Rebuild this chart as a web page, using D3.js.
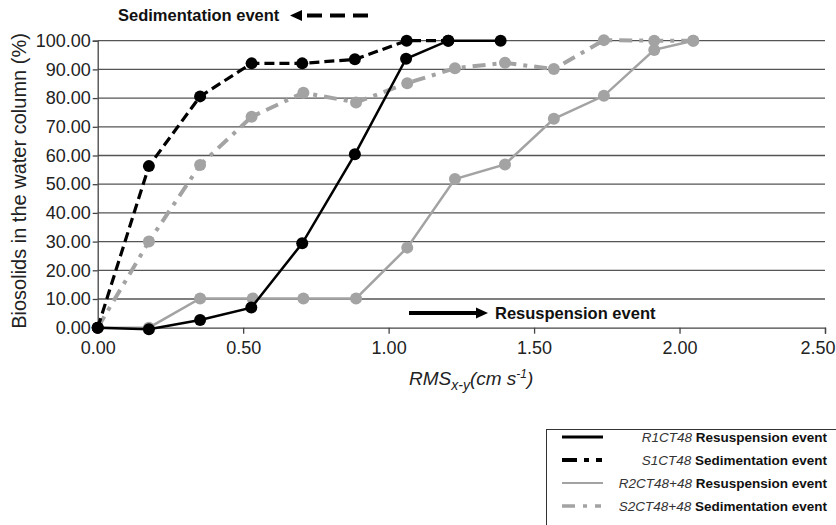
<!DOCTYPE html>
<html><head><meta charset="utf-8">
<script src="https://cdn.jsdelivr.net/npm/d3@7"></script>
<style>body{margin:0;background:#fff}svg{display:block;font-family:"Liberation Sans",Arial,sans-serif}</style>
</head><body><svg id="c" width="836" height="525"></svg>
<script>
const xTicks = [0, 0.5, 1.0, 1.5, 2.0, 2.5];
const yTicks = [0, 10, 20, 30, 40, 50, 60, 70, 80, 90, 100];

const xR1 = [0, 0.176, 0.352, 0.528, 0.703, 0.884, 1.06, 1.205, 1.385];
const yR1 = [0, -0.5, 2.7, 7.0, 29.4, 60.4, 93.7, 100, 100];
const xS1 = [0, 0.176, 0.352, 0.529, 0.703, 0.884, 1.062, 1.205];
const yS1 = [0, 56.3, 80.6, 92.1, 92.1, 93.5, 100, 100];
const xR2 = [0, 0.176, 0.352, 0.533, 0.707, 0.888, 1.064, 1.228, 1.400, 1.568, 1.740, 1.913, 2.047];
const yR2 = [0, 0, 10.2, 10.2, 10.2, 10.2, 27.9, 51.8, 56.9, 72.8, 80.8, 96.8, 100];
const xS2 = [0, 0.176, 0.352, 0.529, 0.707, 0.888, 1.064, 1.228, 1.400, 1.568, 1.740, 1.913, 2.047];
const yS2 = [0, 30.0, 56.7, 73.5, 81.9, 78.5, 85.2, 90.4, 92.3, 90.1, 100.2, 100, 100];

const seriesNames = ["R1CT48", "S1CT48", "R2CT48+48", "S2CT48+48"];
const seriesEvents = ["Resuspension event", "Sedimentation event", "Resuspension event", "Sedimentation event"];

const svg = d3.select("#c");
const x = d3.scaleLinear().domain([0, 2.5]).range([97.7, 825]);
const y = d3.scaleLinear().domain([0, 100]).range([327.7, 40.7]);

// gridlines
svg.append("g").selectAll("line").data(yTicks.filter(d => d > 0)).join("line")
  .attr("x1", x(0)).attr("x2", x(2.5)).attr("y1", d => y(d)).attr("y2", d => y(d))
  .attr("stroke", "#555").attr("stroke-width", 1.3);

// axes
const yAxis = svg.append("g").attr("transform", `translate(${x(0)},0)`)
  .call(d3.axisLeft(y).tickValues(yTicks).tickFormat(d3.format(".2f")).tickSize(5).tickPadding(2));
const xAxis = svg.append("g").attr("transform", `translate(0,${y(0)})`)
  .call(d3.axisBottom(x).tickValues(xTicks).tickFormat(d3.format(".2f")).tickSize(6).tickPadding(8));
[xAxis, yAxis].forEach(g => {
  g.select(".domain").attr("stroke", "#444").attr("stroke-width", 1.3);
  g.selectAll(".tick line").attr("stroke", "#444").attr("stroke-width", 1.3);
  g.selectAll(".tick text").attr("font-size", 18).attr("fill", "#222")
    .attr("font-family", '"Liberation Sans",Arial,sans-serif');
});
// last x label kept inside the picture, as in the reference
xAxis.selectAll(".tick text").filter(d => d === 2.5).attr("text-anchor", "end").attr("dx", 10);

const gray = "#a3a3a3";
const line = d3.line().x(d => x(d[0])).y(d => y(d[1]));
const zip = (a, b) => a.map((v, i) => [v, b[i]]);

const series = [
  {xs: xR2, ys: yR2, color: gray, w: 2.5, dash: null},
  {xs: xS2, ys: yS2, color: gray, w: 4, dash: "13,7,4,7"},
  {xs: xR1, ys: yR1, color: "#000", w: 2.5, dash: null},
  {xs: xS1, ys: yS1, color: "#000", w: 3.2, dash: "10,5"}
];
series.forEach(s => {
  const pts = zip(s.xs, s.ys);
  svg.append("path").datum(pts).attr("d", line).attr("fill", "none")
    .attr("stroke", s.color).attr("stroke-width", s.w)
    .attr("stroke-dasharray", s.dash);
  svg.append("g").selectAll("circle").data(pts).join("circle")
    .attr("cx", d => x(d[0])).attr("cy", d => y(d[1])).attr("r", 6).attr("fill", s.color);
});

// annotations
svg.append("text").attr("x", 118).attr("y", 21).attr("font-size", 16.5).attr("font-weight", "bold")
  .attr("fill", "#111").text("Sedimentation event");
svg.append("path").attr("d", "M290,15.5 L302,10 L302,21 Z").attr("fill", "#000");
svg.append("line").attr("x1", 307).attr("x2", 369).attr("y1", 15.5).attr("y2", 15.5)
  .attr("stroke", "#000").attr("stroke-width", 4).attr("stroke-dasharray", "15,8");

svg.append("line").attr("x1", 409).attr("x2", 479).attr("y1", 313).attr("y2", 313)
  .attr("stroke", "#000").attr("stroke-width", 4);
svg.append("path").attr("d", "M488,313 L476,307.5 L476,318.5 Z").attr("fill", "#000");
svg.append("text").attr("x", 495).attr("y", 319).attr("font-size", 16.5).attr("font-weight", "bold")
  .attr("fill", "#111").text("Resuspension event");

// axis titles
svg.append("text").attr("transform", "translate(26,181) rotate(-90)").attr("text-anchor", "middle")
  .attr("font-size", 20).attr("fill", "#222").text("Biosolids in the water column (%)");

const xt = svg.append("text").attr("x", 409).attr("y", 385).attr("font-size", 19)
  .attr("font-style", "italic").attr("fill", "#222");
xt.append("tspan").text("RMS");
xt.append("tspan").attr("font-size", 14).attr("dy", 5).text("x-y");
xt.append("tspan").attr("dy", -5).text("(cm s");
xt.append("tspan").attr("font-size", 12).attr("dy", -7).text("-1");
xt.append("tspan").attr("dy", 7).text(")");

// legend
svg.append("rect").attr("x", 546.5).attr("y", 429.5).attr("width", 320).attr("height", 120)
  .attr("fill", "#fff").attr("stroke", "#333").attr("stroke-width", 1);
const legStyles = [
  {color: "#000", w: 3, dash: null},
  {color: "#000", w: 4, dash: "15,7,5,7,6"},
  {color: gray, w: 2.2, dash: null},
  {color: gray, w: 3.5, dash: "13,8,4,8,6"}
];
const legY = [437, 460, 483, 506];
seriesNames.forEach((n, i) => {
  svg.append("line").attr("x1", 562).attr("x2", 603).attr("y1", legY[i]).attr("y2", legY[i])
    .attr("stroke", legStyles[i].color).attr("stroke-width", legStyles[i].w)
    .attr("stroke-dasharray", legStyles[i].dash);
  const t = svg.append("text").attr("x", 827).attr("y", legY[i] + 5).attr("text-anchor", "end")
    .attr("font-size", 13.5).attr("fill", "#111");
  t.append("tspan").attr("font-style", "italic").attr("fill", "#333").text(n + " ");
  t.append("tspan").attr("font-weight", "bold").text(seriesEvents[i]);
});
</script></body></html>
